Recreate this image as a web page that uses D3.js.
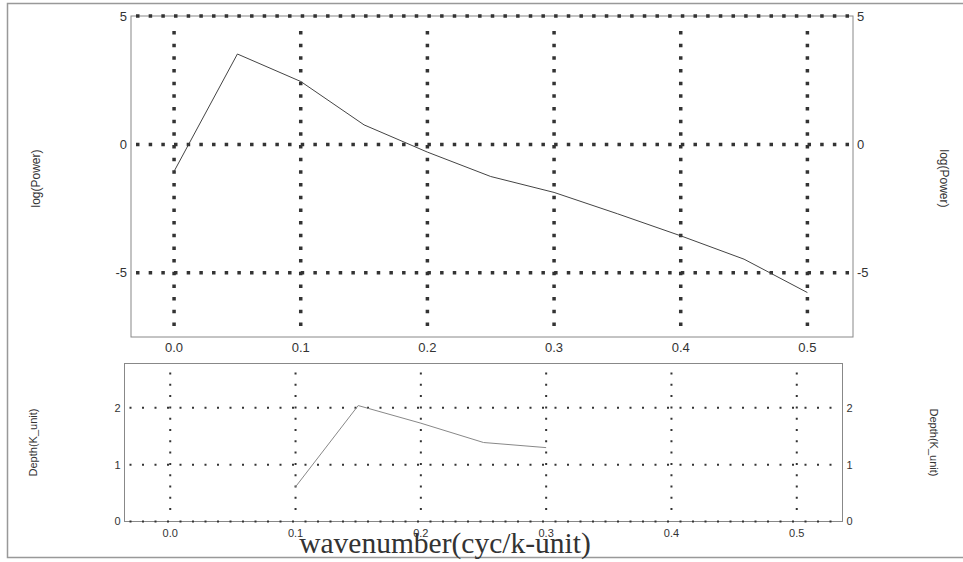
<!DOCTYPE html>
<html lang="en">
<head>
    <script src="https://d3js.org/d3.v7.min.js"></script>
    <style>
        body { margin: 0; background: #fff; }
        text { font-family: "Liberation Sans", Arial, sans-serif; fill: #333; }
    </style>
</head>
<body>
    <svg></svg>
    <script>
        // power spectrum (top) and depth estimate (bottom)
        const wavenumbers = [0.0, 0.05, 0.1, 0.15, 0.2, 0.25, 0.3, 0.35, 0.4, 0.45, 0.5]
        const logPower = [-1.05, 3.52, 2.45, 0.76, -0.3, -1.25, -1.87, -2.7, -3.56, -4.47, -5.77]
        const depthK = [0.1, 0.15, 0.2, 0.25, 0.3]
        const depthVal = [0.61, 2.04, 1.73, 1.39, 1.30]
        const xTicks = [0, 0.1, 0.2, 0.3, 0.4, 0.5]
        const powerTicks = [-5, 0, 5]
        const depthTicks = [0, 1, 2]

        const W = 963, H = 562
        const svg = d3.select('svg').attr('width', W).attr('height', H)

        // outer frame (left, top, bottom only)
        svg.append('path')
            .attr('d', `M${W},3.5 H7.5 V557.5 H${W}`)
            .attr('fill', 'none').attr('stroke', '#999').attr('stroke-width', 1.5)

        function panel(opt) {
            const x = d3.scaleLinear().domain(opt.xDomain).range([opt.left, opt.right])
            const y = d3.scaleLinear().domain(opt.yDomain).range([opt.bottom, opt.top])
            const g = svg.append('g')

            // frame
            g.append('rect')
                .attr('x', opt.left).attr('y', opt.top)
                .attr('width', opt.right - opt.left).attr('height', opt.bottom - opt.top)
                .attr('fill', 'none').attr('stroke', '#888').attr('stroke-width', 1)

            // dotted grid
            g.selectAll('.vg').data(xTicks).enter().append('line')
                .attr('x1', d => x(d)).attr('x2', d => x(d))
                .attr('y1', opt.top + opt.vInsetTop).attr('y2', opt.bottom - opt.vInsetBottom)
                .attr('stroke', '#333').attr('stroke-width', opt.dot)
                .attr('stroke-dasharray', `${opt.dot} ${opt.vGap - opt.dot}`)
            g.selectAll('.hg').data(opt.yTicks).enter().append('line')
                .attr('x1', opt.left + opt.hInset).attr('x2', opt.right - 3)
                .attr('y1', d => y(d)).attr('y2', d => y(d))
                .attr('stroke', '#333').attr('stroke-width', opt.dot)
                .attr('stroke-dasharray', `${opt.dot} ${opt.hGap - opt.dot}`)

            // data line
            g.append('path')
                .datum(opt.xs.map((d, i) => [d, opt.ys[i]]))
                .attr('fill', 'none').attr('stroke', opt.lineColor).attr('stroke-width', 1)
                .attr('d', d3.line().x(d => x(d[0])).y(d => y(d[1])))

            // tick labels
            g.selectAll('.xl').data(xTicks).enter().append('text')
                .attr('x', d => x(d)).attr('y', opt.bottom + opt.xLabelDy)
                .attr('text-anchor', 'middle').attr('font-size', opt.fs)
                .text(d => d3.format('.1f')(d))
            g.selectAll('.yl').data(opt.yTicks).enter().append('text')
                .attr('x', opt.left - 4).attr('y', d => y(d)).attr('dy', '0.35em')
                .attr('text-anchor', 'end').attr('font-size', opt.fs)
                .text(d => d3.format('d')(d).replace('−', '-'))
            g.selectAll('.yr').data(opt.yTicks).enter().append('text')
                .attr('x', opt.right + 4).attr('y', d => y(d)).attr('dy', '0.35em')
                .attr('text-anchor', 'start').attr('font-size', opt.fs)
                .text(d => d3.format('d')(d).replace('−', '-'))

            // axis titles
            const mid = (opt.top + opt.bottom) / 2 + opt.titleShift
            g.append('text')
                .attr('transform', `translate(${opt.titleL},${mid}) rotate(-90)`)
                .attr('text-anchor', 'middle').attr('font-size', opt.titleFs)
                .text(opt.title)
            g.append('text')
                .attr('transform', `translate(${opt.titleR},${mid}) rotate(90)`)
                .attr('text-anchor', 'middle').attr('font-size', opt.titleFs)
                .text(opt.title)
        }

        panel({
            left: 131, right: 853, top: 16, bottom: 337,
            xDomain: [-0.034, 0.536], yDomain: [-7.5, 5],
            xs: wavenumbers, ys: logPower, yTicks: powerTicks,
            dot: 3.5, hGap: 12.67, vGap: 12.67, vInsetTop: 15, vInsetBottom: 11, hInset: 5,
            lineColor: '#444', fs: 13, xLabelDy: 15,
            title: 'log(Power)', titleFs: 12, titleL: 40, titleR: 940, titleShift: 2
        })

        panel({
            left: 124.5, right: 842.5, top: 363.5, bottom: 521.5,
            xDomain: [-0.0365, 0.5365], yDomain: [0, 2.78],
            xs: depthK, ys: depthVal, yTicks: depthTicks,
            dot: 2, hGap: 12.5, vGap: 11.3, vInsetTop: 9, vInsetBottom: 9, hInset: 5,
            lineColor: '#888', fs: 11, xLabelDy: 15,
            title: 'Depth(K_unit)', titleFs: 11, titleL: 37, titleR: 930, titleShift: 0
        })

        svg.append('text')
            .attr('x', 445).attr('y', 553)
            .attr('text-anchor', 'middle')
            .style('font-family', '"Liberation Serif", "Times New Roman", serif')
            .style('fill', '#333')
            .attr('font-size', 29.5)
            .text('wavenumber(cyc/k-unit)')
    </script>
</body>
</html>
